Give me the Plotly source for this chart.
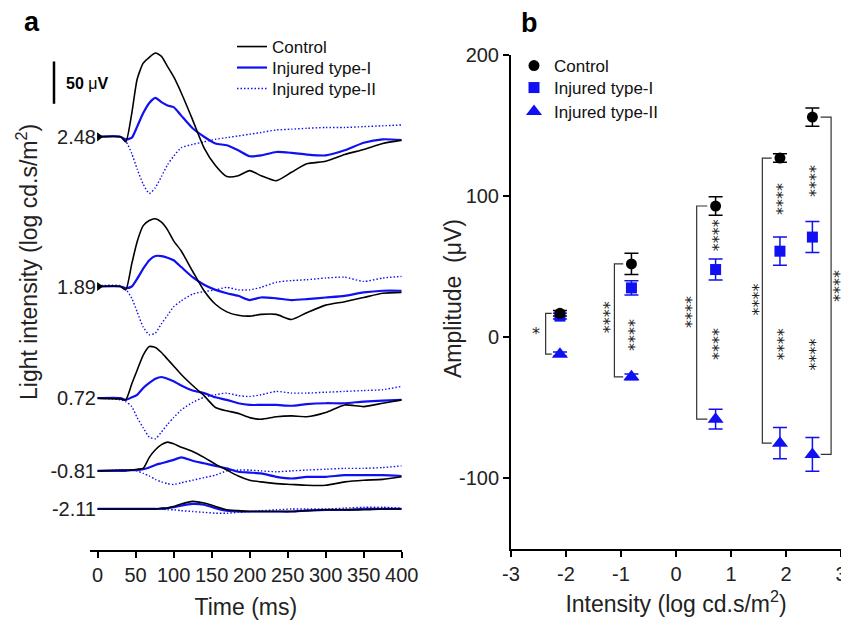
import plotly.graph_objects as go

# ---------------- data ----------------
INTENSITIES = [-2.11, -0.81, 0.72, 1.89, 2.48]
INTENSITY_LABELS = ["-2.11", "-0.81", "0.72", "1.89", "2.48"]

# Panel a: ERG waveforms (µV relative to baseline), sampled at TIME_MS
TIME_MS = [0, 30, 37, 45, 52, 60, 68, 76, 84, 92, 100, 110, 125, 140, 155,
           170, 185, 200, 215, 235, 255, 275, 300, 325, 350, 375, 400]
TIME_TICKS = [0, 50, 100, 150, 200, 250, 300, 350, 400]

CTRL_248 = [0, 0, -6, 28, 68, 87, 94, 99, 95, 83, 71, 52, 20, -13, -34, -47, -46, -40, -46, -52, -42, -32, -29, -21, -15, -8, -4]
T1_248 = [0, 0, -3, -1, 12, 28, 40, 46, 41, 37, 35, 25, 10, 0, -8, -10, -16, -23, -22, -18, -19, -21, -22, -16, -7, -3, -4]
T2_248 = [0, 0, -5, -20, -38, -56, -67, -60, -47, -33, -23, -13, -9, -6, -3, -1, 1, 3, 5, 8, 9, 10, 11, 11, 12, 13, 14]

CTRL_189 = [0, 0, -4, 27, 53, 72, 78, 80, 76, 67, 54, 42, 18, -5, -21, -30, -34, -35, -33, -33, -39, -31, -22, -18, -13, -8, -7]
T1_189 = [0, 0, -2, 0, 9, 21, 31, 36, 36, 34, 31, 23, 11, 2, -4, -8, -11, -16, -13, -14, -16, -15, -13, -11, -7, -5, -5]
T2_189 = [1, 1, -3, -14, -30, -48, -57, -55, -44, -34, -24, -17, -9, -6, -4, -1, -4, -4, -1, 5, 7, 8, 10, 11, 6, 10, 12]

CTRL_072 = [0, -1, -2, 17, 33, 51, 61, 60, 54, 46, 38, 28, 15, 3, -11, -15, -18, -23, -25, -22, -21, -22, -17, -8, -10, -6, -2]
T1_072 = [0, 0, -2, 1, 4, 12, 18, 23, 25, 23, 20, 15, 9, 6, 1, -2, -6, -8, -8, -8, -9, -7, -6, -6, -4, -3, -2]
T2_072 = [0, -2, -4, -10, -23, -35, -46, -48, -40, -31, -23, -14, -5, 1, 4, 6, 3, 2, 4, 8, 6, 6, 7, 8, 9, 10, 14]

CTRL_M081 = [0, 1, 1, 1, 2, 3, 16, 25, 31, 34, 32, 28, 23, 16, 8, 1, -6, -11, -13, -15, -16, -17, -17, -13, -11, -10, -7]
T1_M081 = [0, 0, 0, 1, 1, 2, 4, 7, 9, 11, 13, 16, 12, 9, 6, 3, -1, -2, -3, -7, -9, -7, -7, -5, -5, -5, -6]
T2_M081 = [0, 1, 1, 1, 0, -3, -6, -10, -13, -15, -16, -14, -11, -8, -5, 0, 1, 1, 0, -1, 0, 1, 2, 3, 3, 4, 6]

CTRL_M211 = [0, 0, 0, 0, 0, 0, 0, 0, 1, 1, 3, 6, 9, 7, 3, -1, -2, -3, -3, -3, -3, -2, -1, -1, -1, 0, 0]
T1_M211 = [0, 0, 0, 0, 0, 0, 0, 0, 0, 1, 2, 4, 6, 5, 1, -2, -3, -3, -3, -3, -3, -2, -1, -1, 0, 0, 0]
T2_M211 = [0, 0, 0, 0, 0, 0, 0, 0, 0, -1, -1, -2, -3, -4, -5, -5, -4, -3, -2, -1, 0, 0, 0, 1, 2, 2, 1]

# vertical stacking offsets of the traces (µV), same order as INTENSITIES
TRACE_OFFSETS_UV = [0, 45, 131, 263, 440]
SCALE_BAR_UV = 50

# Panel b: amplitudes (µV) mean ± error
CTRL_AMP = [17, 52, 93, 127, 156]
CTRL_ERR = [2, 7.5, 6.5, 3, 6.5]
T1_AMP = [15, 35, 48, 61, 71]
T1_ERR = [2, 5, 7.5, 10, 11]
T2_AMP = [-12, -28, -58, -75, -83]
T2_ERR = [1.5, 2, 7, 11, 12]

B_X_TICKS = [-3, -2, -1, 0, 1, 2, 3]
B_X_TICK_LABELS = ["-3", "-2", "-1", "0", "1", "2", "3"]
B_Y_TICKS = [-100, 0, 100, 200]
B_Y_TICK_LABELS = ["-100", "0", "100", "200"]

SERIES_NAMES = ["Control", "Injured type-I", "Injured type-II"]

# ---------------- style ----------------
FONT = "Arial, 'Liberation Sans', Helvetica, sans-serif"
STAR_FONT = "'DejaVu Sans', sans-serif"
BLACK = "#000000"
BLUE = "#1010f0"
W, H = 841, 620


def px_x(p):
    return p / W


def px_y(p):
    return 1 - p / H


fig = go.Figure()

# legend ids: panel a rows / panel b rows
LEG_A = ["legend", "legend3", "legend4"]
LEG_B = ["legend2", "legend5", "legend6"]

# ---------------- panel a ----------------
waves = {
    -2.11: (CTRL_M211, T1_M211, T2_M211),
    -0.81: (CTRL_M081, T1_M081, T2_M081),
    0.72: (CTRL_072, T1_072, T2_072),
    1.89: (CTRL_189, T1_189, T2_189),
    2.48: (CTRL_248, T1_248, T2_248),
}
for k, inten in enumerate(INTENSITIES):
    ctrl, t1, t2 = waves[inten]
    off = TRACE_OFFSETS_UV[k]
    first = inten == 2.48
    fig.add_trace(go.Scatter(
        x=TIME_MS, y=[v + off for v in t2], mode="lines",
        line=dict(color=BLUE, width=1.4, dash="1.5px,2px", shape="spline", smoothing=0.6),
        name=SERIES_NAMES[2], showlegend=first, legend=LEG_A[2],
        xaxis="x", yaxis="y", hoverinfo="skip"))
    fig.add_trace(go.Scatter(
        x=TIME_MS, y=[v + off for v in t1], mode="lines",
        line=dict(color=BLUE, width=2.2, shape="spline", smoothing=0.6),
        name=SERIES_NAMES[1], showlegend=first, legend=LEG_A[1],
        xaxis="x", yaxis="y", hoverinfo="skip"))
    fig.add_trace(go.Scatter(
        x=TIME_MS, y=[v + off for v in ctrl], mode="lines",
        line=dict(color=BLACK, width=1.6, shape="spline", smoothing=0.6),
        name=SERIES_NAMES[0], showlegend=first, legend=LEG_A[0],
        xaxis="x", yaxis="y", hoverinfo="skip"))

# stimulus markers at the two brightest intensities
fig.add_trace(go.Scatter(
    x=[TIME_MS[0] + 2, TIME_MS[0] + 2], y=[TRACE_OFFSETS_UV[3], TRACE_OFFSETS_UV[4]],
    mode="markers", marker=dict(symbol="triangle-right", size=8, color=BLACK),
    showlegend=False, xaxis="x", yaxis="y", hoverinfo="skip"))

# ---------------- panel b ----------------
fig.add_trace(go.Scatter(
    x=INTENSITIES, y=T2_AMP, mode="markers", name=SERIES_NAMES[2],
    marker=dict(symbol="triangle-up", size=14, color=BLUE),
    error_y=dict(type="data", array=T2_ERR, color=BLUE, thickness=1.5, width=7),
    legend=LEG_B[2], xaxis="x2", yaxis="y2"))
fig.add_trace(go.Scatter(
    x=INTENSITIES, y=T1_AMP, mode="markers", name=SERIES_NAMES[1],
    marker=dict(symbol="square", size=11, color=BLUE),
    error_y=dict(type="data", array=T1_ERR, color=BLUE, thickness=1.5, width=7),
    legend=LEG_B[1], xaxis="x2", yaxis="y2"))
fig.add_trace(go.Scatter(
    x=INTENSITIES, y=CTRL_AMP, mode="markers", name=SERIES_NAMES[0],
    marker=dict(symbol="circle", size=11, color=BLACK),
    error_y=dict(type="data", array=CTRL_ERR, color=BLACK, thickness=1.5, width=7),
    legend=LEG_B[0], xaxis="x2", yaxis="y2"))

# brackets (Control vs Injured type-II)
BRACKET_X = [-2.37, -1.12, 0.376, 1.57, 2.82]
shapes = []
for k, inten in enumerate(INTENSITIES):
    bx = BRACKET_X[k]
    side = 1 if bx > inten else -1
    arm = inten + side * 0.15
    top, bot = CTRL_AMP[k], T2_AMP[k]
    shapes.append(dict(
        type="path", xref="x2", yref="y2",
        path=f"M{arm},{top} L{bx},{top} L{bx},{bot} L{arm},{bot}",
        line=dict(color="#333333", width=1.2)))

# scale bar panel a
shapes.append(dict(type="line", xref="paper", yref="y",
                   x0=px_x(54), x1=px_x(54),
                   y0=TRACE_OFFSETS_UV[4] + 39, y1=TRACE_OFFSETS_UV[4] + 39 + SCALE_BAR_UV,
                   line=dict(color=BLACK, width=2.5)))

# significance stars: (x, y, text, angle)
STARS = [
    (-2.55, 3, "*", 0),
    (-1.26, 14, "****", -90),
    (-0.81, 2, "****", -90),
    (0.24, 18, "****", -90),
    (0.72, 72, "****", -90),
    (0.72, -5, "****", -90),
    (1.44, 27, "****", -90),
    (1.89, 98, "****", -90),
    (1.89, -5, "****", -90),
    (2.48, 111, "****", -90),
    (2.48, -12, "****", -90),
    (2.92, 36, "****", -90),
]
annotations = []
for sx, sy, st, ang in STARS:
    annotations.append(dict(x=sx, y=sy, xref="x2", yref="y2", text=st, textangle=ang,
                            showarrow=False, xshift=3 if ang else 0,
                            font=dict(size=16, color="#222222", family=STAR_FONT),
                            xanchor="center", yanchor="middle"))


def paper_text(x, y, text, size, angle=0, xanchor="center", color=BLACK):
    return dict(x=px_x(x), y=px_y(y), xref="paper", yref="paper", text=text,
                textangle=angle, showarrow=False, xanchor=xanchor, yanchor="middle",
                font=dict(size=size, color=color, family=FONT))


annotations += [
    paper_text(32, 22, "<b>a</b>", 27),
    paper_text(529, 23, "<b>b</b>", 27),
    paper_text(64, 83, "<b>50</b> μ<b>V</b>", 16, xanchor="left"),
    paper_text(27, 262, "Light intensity (log cd.s/m<sup>2</sup>)", 23, angle=-90,
               color="#222222"),
    paper_text(453, 299, "Amplitude  (μV)", 23, angle=-90, color="#222222"),
]

axis_common = dict(showgrid=False, zeroline=False, color="#222222", automargin=False,
                   tickfont=dict(size=20, family=FONT, color="#222222"))

legend_common = dict(xanchor="left", yanchor="middle", bgcolor="rgba(0,0,0,0)",
                     font=dict(size=17, family=FONT, color="#111111"), itemwidth=30)
ROWS_A = [47, 68, 89]
ROWS_B = [66, 88, 112]
legends = {}
for lid, row in zip(LEG_A, ROWS_A):
    legends[lid] = dict(x=px_x(232), y=px_y(row), **legend_common)
for lid, row in zip(LEG_B, ROWS_B):
    legends[lid] = dict(x=px_x(514), y=px_y(row), **legend_common)

fig.update_layout(
    width=W, height=H,
    margin=dict(l=0, r=0, t=0, b=0, autoexpand=False),
    paper_bgcolor="white", plot_bgcolor="white",
    font=dict(family=FONT, color="#222222"),
    shapes=shapes, annotations=annotations,
    xaxis=dict(domain=[px_x(90), px_x(401.7)], range=[-10, 400], anchor="y",
               showline=True, linecolor=BLACK, linewidth=2,
               ticks="outside", ticklen=6, tickwidth=1.5, tickcolor=BLACK,
               tickvals=TIME_TICKS,
               title=dict(text="Time (ms)", font=dict(size=23, family=FONT), standoff=15),
               **axis_common),
    yaxis=dict(domain=[px_y(550), px_y(40)], range=[-48.5, 554.4], anchor="free",
               position=px_x(96), showline=False, ticks="",
               tickvals=TRACE_OFFSETS_UV, ticktext=INTENSITY_LABELS,
               **axis_common),
    xaxis2=dict(domain=[px_x(511), 1.0], range=[-3, 3], anchor="y2",
                tickvals=B_X_TICKS, ticktext=B_X_TICK_LABELS, ticklabeloverflow="allow",
                showline=True, linecolor=BLACK, linewidth=2,
                ticks="outside", ticklen=6, tickwidth=1.5, tickcolor=BLACK,
                title=dict(text="Intensity (log cd.s/m<sup>2</sup>)",
                           font=dict(size=23, family=FONT), standoff=12),
                **axis_common),
    yaxis2=dict(domain=[px_y(549), px_y(55)], range=[-150, 200], anchor="x2",
                tickvals=B_Y_TICKS, ticktext=B_Y_TICK_LABELS,
                showline=True, linecolor=BLACK, linewidth=2,
                ticks="outside", ticklen=6, tickwidth=1.5, tickcolor=BLACK,
                **axis_common),
    showlegend=True,
    **legends,
)

fig.write_html("out.html", config={"displayModeBar": False},
               post_script="document.body.style.margin='0';document.body.style.padding='0';")
